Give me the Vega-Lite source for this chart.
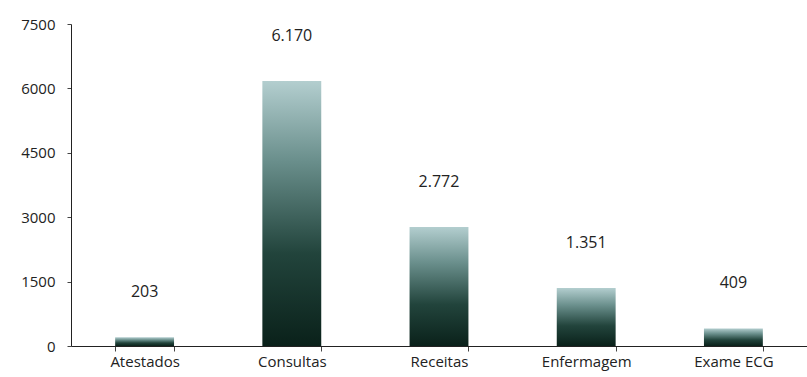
{
  "$schema": "https://vega.github.io/schema/vega-lite/v6.json",
  "width": 736,
  "height": 322,
  "autosize": {"type": "none"},
  "padding": {"left": 71, "top": 24, "right": 0, "bottom": 31},
  "background": "white",
  "config": {"view": {"stroke": null}, "font": "Open Sans"},
  "data": {
    "values": [
      {"categoria": "Atestados", "valor": 203, "rotulo": "203"},
      {"categoria": "Consultas", "valor": 6170, "rotulo": "6.170"},
      {"categoria": "Receitas", "valor": 2772, "rotulo": "2.772"},
      {"categoria": "Enfermagem", "valor": 1351, "rotulo": "1.351"},
      {"categoria": "Exame ECG", "valor": 409, "rotulo": "409"}
    ]
  },
  "encoding": {
    "x": {
      "field": "categoria",
      "type": "nominal",
      "sort": null,
      "scale": {"paddingInner": 0.6, "paddingOuter": 0.3},
      "axis": {
        "title": null,
        "labelAngle": 0,
        "labelFontSize": 15,
        "labelColor": "#222",
        "labelPadding": 3,
        "domainColor": "#222",
        "tickColor": "#444",
        "tickSize": 5,
        "tickBand": "extent",
        "labelFont": "Open Sans"
      }
    },
    "y": {
      "field": "valor",
      "type": "quantitative",
      "scale": {"domain": [0, 7500]},
      "axis": {
        "title": null,
        "values": [0, 1500, 3000, 4500, 6000, 7500],
        "format": "d",
        "grid": false,
        "labelFontSize": 15,
        "labelColor": "#222",
        "labelPadding": 12,
        "domainColor": "#222",
        "tickColor": "#444",
        "tickSize": 4
      }
    }
  },
  "layer": [
    {
      "mark": {
        "type": "bar",
        "color": {
          "gradient": "linear",
          "x1": 0, "y1": 0, "x2": 0, "y2": 1,
          "stops": [
            {"offset": 0, "color": "#b3cecf"},
            {"offset": 0.3, "color": "#6a8f8c"},
            {"offset": 0.65, "color": "#22443c"},
            {"offset": 1, "color": "#0a211a"}
          ]
        }
      }
    },
    {
      "mark": {"type": "text", "dy": -45, "fontSize": 16, "color": "#222", "font": "Open Sans"},
      "encoding": {"text": {"field": "rotulo"}}
    }
  ]
}
